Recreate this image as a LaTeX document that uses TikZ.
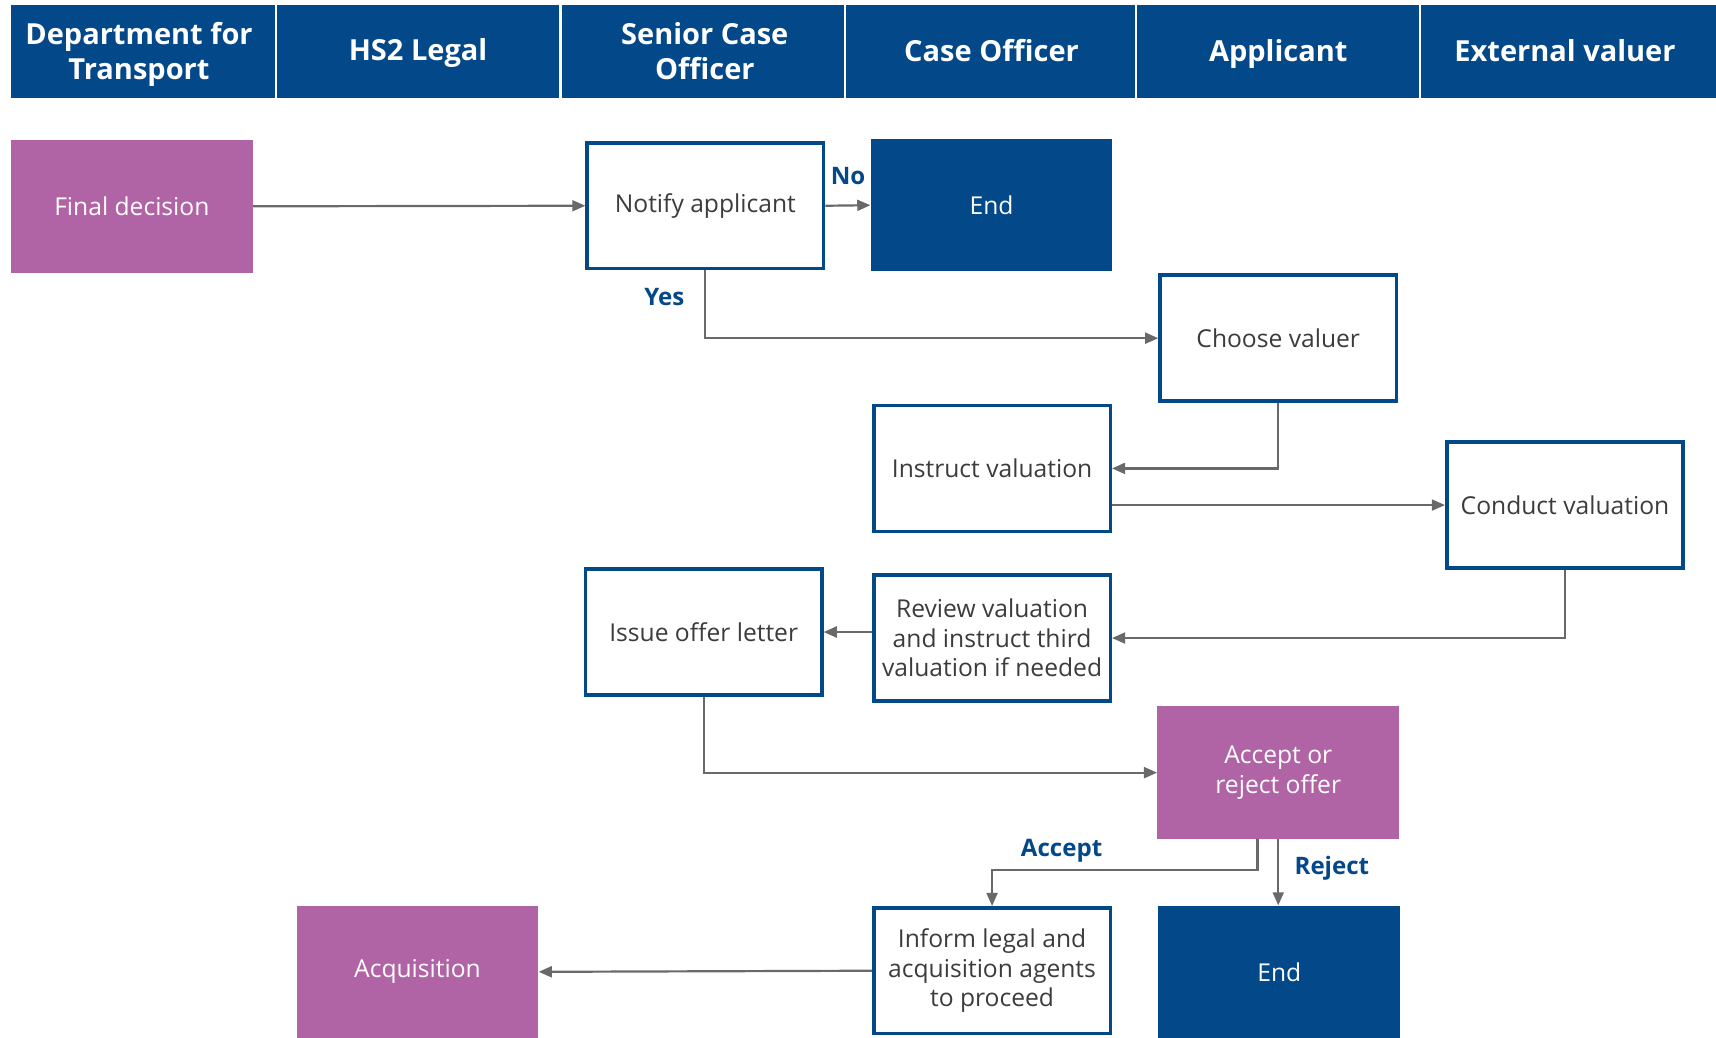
\documentclass[tikz,border=0pt]{standalone}
\usepackage{fontspec}
\setmainfont{Open Sans}
\usetikzlibrary{arrows.meta}
\definecolor{hdr}{RGB}{3,72,136}
\definecolor{purp}{RGB}{176,100,166}
\definecolor{arr}{RGB}{105,105,105}
\definecolor{txt}{RGB}{60,60,60}
\tikzset{
  hcell/.style={fill=hdr, text=white, font=\fontsize{26.5}{32}\selectfont\bfseries, align=center, inner sep=0pt, minimum height=85pt},
  wbox/.style={draw=hdr, line width=3.2pt, fill=white, text=txt, font=\fontsize{22.5}{27}\selectfont, align=center, minimum width=216pt, minimum height=115pt, inner sep=0pt},
  pbox/.style={fill=purp, text=white, font=\fontsize{22.5}{27}\selectfont, align=center, minimum width=221pt, minimum height=121pt, inner sep=0pt},
  bbox/.style={fill=hdr, text=white, font=\fontsize{22.5}{27}\selectfont, align=center, minimum width=221pt, minimum height=121pt, inner sep=0pt},
  conn/.style={draw=arr, line width=2pt, -{Triangle[length=12pt,width=10pt]}},
  lbl/.style={text=hdr, font=\fontsize{22}{26}\selectfont\bfseries, inner sep=0pt}
}
\begin{document}
\begin{tikzpicture}[x=1pt,y=-1pt]
\useasboundingbox (0,0) rectangle (1568,948);
% header
\fill[hdr] (10,5) rectangle (1568,90);
\node[hcell, minimum width=242pt] (h1) at (131,47.5) {};
\node[hcell, minimum width=260pt] (h2) at (382,47.5) {};
\node[hcell, minimum width=260pt] (h3) at (642,47.5) {};
\node[hcell, minimum width=266pt] (h4) at (905,47.5) {};
\node[hcell, minimum width=259pt] (h5) at (1167.5,47.5) {};
\node[hcell, minimum width=271pt] (h6) at (1432.5,47.5) {};
\foreach \a in {h1,h2,h3,h4,h5}{\draw[white, line width=2pt] (\a.north east) -- (\a.south east);}
\node[hcell, minimum height=0pt, fill=none] (t1) at (127,50) {Department for\\Transport};
\node[hcell, minimum height=0pt, fill=none] (t2) at (382,48) {HS2 Legal};
\node[hcell, minimum height=0pt, fill=none] (t3) at (644,47) {Senior Case\\Officer};
\node[hcell, minimum height=0pt, fill=none] (t4) at (906,46) {Case Officer};
\node[hcell, minimum height=0pt, fill=none] (t5) at (1168,49) {Applicant};
\node[hcell, minimum height=0pt, fill=none] (t6) at (1430,46.5) {External valuer};
% boxes
\node[pbox] (final) at (120.5,188.5) {Final decision};
\node[wbox] (notify) at (644.5,188) {Notify applicant};
\node[bbox] (end1) at (906,187.5) {End};
\node[wbox] (choose) at (1168,309) {Choose valuer};
\node[wbox] (instruct) at (906.5,428) {Instruct valuation};
\node[wbox] (conduct) at (1430,461.5) {Conduct valuation};
\node[wbox] (issue) at (643,577.5) {Issue offer letter};
\node[wbox] (review) at (906.5,583) {Review valuation\\and instruct third\\valuation if needed};
\node[pbox] (accept) at (1168,706) {Accept or\\reject offer};
\node[pbox] (acq) at (381.5,888) {Acquisition};
\node[wbox] (inform) at (906.5,887) {Inform legal and\\acquisition agents\\to proceed};
\node[bbox] (end2) at (1169,888) {End};
% connectors
\draw[conn] (final.east) -- (notify.west);
\draw[conn] (notify.east) -- (end1.west);
\draw[conn] (notify.south) |- (choose.west);
\draw[conn] (choose.south) |- (instruct.east);
\draw[conn] (instruct.east |- conduct.west) -- (conduct.west);
\draw[conn] (conduct.south) |- (review.east);
\draw[conn] (review.west |- issue.east) -- (issue.east);
\draw[conn] (issue.south) |- (accept.west);
\draw[conn] ([xshift=-19pt]accept.south) -- ++(0,28) -| (inform.north);
\draw[conn] (accept.south) -- (accept.south |- end2.north);
\draw[conn] (inform.west) -- (acq.east);
% labels
\node[lbl] (lno) at (775,161) {No};
\node[lbl] (lyes) at (607,271) {Yes};
\node[lbl] (lacc) at (970,777) {Accept};
\node[lbl] (lrej) at (1217,793) {Reject};
\end{tikzpicture}
\end{document}
